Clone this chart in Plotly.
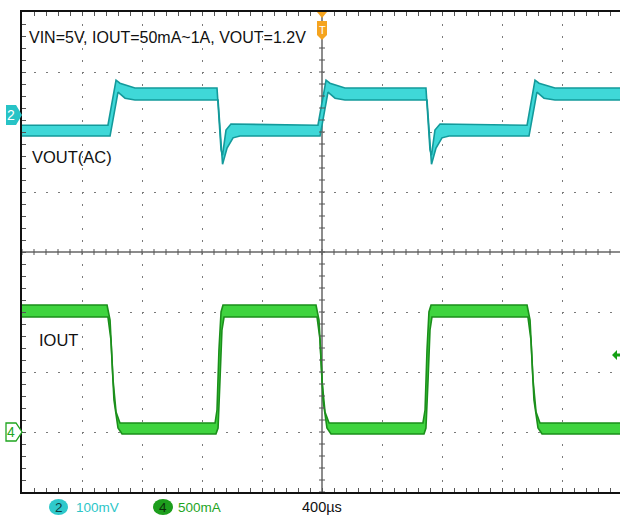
import plotly.graph_objects as go

# ---------------- data ----------------
# time base: 400 us/div, trigger (T) at t = 0 us
TIME_PER_DIV_US = 400
X_RANGE_US = [-2000, 1986.7]

# Channel 2 : VOUT (AC coupled), 100 mV/div, values relative to the channel-2 marker
CH2_MV_PER_DIV = 100
vout_upper_t = [-2000, -1427, -1373, -1347, -1247, -700, -673, -663, -640, -607,
                -27, 27, 53, 153, 693, 720, 730, 753, 787,
                1367, 1420, 1447, 1553, 1987]
vout_upper_mv = [-17, -17, 58, 53, 45, 45, -58, -67, -25, -15,
                 -17, 58, 53, 45, 45, -58, -67, -25, -15,
                 -17, 58, 53, 45, 45]
vout_lower_t = [-2000, -1413, -1360, -1313, -1247, -693, -663, -633, -593, -547,
                -13, 40, 87, 153, 700, 730, 760, 800, 847,
                1380, 1433, 1480, 1553, 1987]
vout_lower_mv = [-35, -35, 38, 28, 25, 25, -82, -55, -38, -35,
                 -35, 38, 28, 25, 25, -82, -55, -38, -35,
                 -35, 38, 28, 25, 25]

# Channel 4 : IOUT, 500 mA/div, values relative to the channel-4 marker
CH4_MA_PER_DIV = 500
iout_upper_t = [-2000, -1433, -1413, -1393, -1373, -1347,
                -713, -700, -687, -673, -660,
                -40, -20, 0, 20, 47,
                673, 687, 700, 713, 727,
                1367, 1387, 1407, 1427, 1453, 1987]
iout_upper_ma = [1058, 1058, 933, 433, 167, 75,
                 75, 183, 683, 1000, 1058,
                 1058, 933, 433, 167, 75,
                 75, 183, 683, 1000, 1058,
                 1058, 933, 433, 167, 75, 75]
iout_lower_t = [-2000, -1427, -1407, -1387, -1360, -1333,
                -707, -693, -680, -667, -653,
                -33, -13, 7, 33, 60,
                680, 693, 707, 720, 733,
                1373, 1393, 1413, 1440, 1467, 1987]
iout_lower_ma = [958, 958, 767, 267, 33, -17,
                 -17, 33, 433, 850, 958,
                 958, 767, 267, 33, -17,
                 -17, 33, 433, 850, 958,
                 958, 767, 267, 33, -17, -17]

CH2_REF_DIV = 2.283     # channel-2 marker position (divisions from centre)
CH4_REF_DIV = -3.0      # channel-4 marker position
CH4_TRIG_MA = 642       # trigger level arrow (right edge)

TITLE_TEXT = "VIN=5V, IOUT=50mA~1A, VOUT=1.2V"
VOUT_LABEL = "VOUT(AC)"
IOUT_LABEL = "IOUT"
CH2_SCALE_LABEL = "100mV"
CH4_SCALE_LABEL = "500mA"
TIME_SCALE_LABEL = "400µs"

# ---------------- styling ----------------
W, H = 620, 515
ML, MT, MB = 22, 12, 23
PLOT_W = W - ML
PLOT_H = H - MT - MB

CYAN_EDGE = "#139a9b"
CYAN_FILL = "#3fd8d8"
CYAN_TXT = "#2cc6c8"
GREEN_EDGE = "#1b8f1b"
GREEN_FILL = "#3fd43f"
GREEN_TXT = "#1fa51f"
ORANGE = "#f5a41f"
FONT = "Liberation Sans, Arial, sans-serif"
TICKCOL = "#555555"


def px(x):
    return (x - ML) / PLOT_W


def py(y):
    return (MT + PLOT_H - y) / PLOT_H


fig = go.Figure()

# VOUT band
fig.add_trace(go.Scatter(x=vout_lower_t, y=vout_lower_mv, yaxis="y2", mode="lines",
                         line=dict(color=CYAN_EDGE, width=1.6), hoverinfo="skip"))
fig.add_trace(go.Scatter(x=vout_upper_t, y=vout_upper_mv, yaxis="y2", mode="lines",
                         line=dict(color=CYAN_EDGE, width=1.6), fill="tonexty",
                         fillcolor=CYAN_FILL, hoverinfo="skip"))
# IOUT band
fig.add_trace(go.Scatter(x=iout_lower_t, y=iout_lower_ma, yaxis="y3", mode="lines",
                         line=dict(color=GREEN_EDGE, width=1.6), hoverinfo="skip"))
fig.add_trace(go.Scatter(x=iout_upper_t, y=iout_upper_ma, yaxis="y3", mode="lines",
                         line=dict(color=GREEN_EDGE, width=1.6), fill="tonexty",
                         fillcolor=GREEN_FILL, hoverinfo="skip"))

y2_range = [(-4 - CH2_REF_DIV) * CH2_MV_PER_DIV, (4 - CH2_REF_DIV) * CH2_MV_PER_DIV]
y3_range = [(-4 - CH4_REF_DIV) * CH4_MA_PER_DIV, (4 - CH4_REF_DIV) * CH4_MA_PER_DIV]

fig.update_layout(
    width=W, height=H,
    margin=dict(l=ML, r=0, t=MT, b=MB, pad=0),
    paper_bgcolor="white", plot_bgcolor="white",
    showlegend=False,
    font=dict(family=FONT, color="#111111"),
    xaxis=dict(range=X_RANGE_US, showticklabels=False, tick0=0, dtick=TIME_PER_DIV_US,
               showgrid=True, gridcolor="#7a7a7a", gridwidth=1, griddash="2px,10px",
               zeroline=True, zerolinecolor="#8c8c8c", zerolinewidth=2,
               showline=True, linecolor="#111111", linewidth=1.5, mirror="allticks",
               ticks="inside", ticklen=4, tickcolor=TICKCOL,
               minor=dict(tick0=0, dtick=TIME_PER_DIV_US / 5, ticks="inside", ticklen=4,
                          tickcolor=TICKCOL, showgrid=False)),
    yaxis=dict(range=[-4, 4], showticklabels=False, tick0=0, dtick=1,
               showgrid=True, gridcolor="#7a7a7a", gridwidth=1, griddash="2px,10px",
               zeroline=True, zerolinecolor="#8c8c8c", zerolinewidth=2,
               showline=True, linecolor="#111111", linewidth=1.5,
               ticks="inside", ticklen=4, tickcolor=TICKCOL,
               minor=dict(tick0=0, dtick=0.2, ticks="inside", ticklen=4,
                          tickcolor=TICKCOL, showgrid=False)),
    yaxis2=dict(overlaying="y", range=y2_range, visible=False),
    yaxis3=dict(overlaying="y", range=y3_range, visible=False),
)

shapes = []
# small tick marks across the two centre lines (every 1/5 division)
for k in range(-25, 25):
    t = k * TIME_PER_DIV_US / 5
    shapes.append(dict(type="line", xref="x", yref="y", ysizemode="pixel", yanchor=0,
                       x0=t, x1=t, y0=-3, y1=3, line=dict(color=TICKCOL, width=1)))
for k in range(-20, 21):
    v = k / 5
    shapes.append(dict(type="line", xref="x", yref="y", xsizemode="pixel", xanchor=0,
                       x0=-3, x1=3, y0=v, y1=v, line=dict(color=TICKCOL, width=1)))
# channel 2 marker (filled)
shapes.append(dict(type="path", xref="paper", yref="y2", xsizemode="pixel", ysizemode="pixel",
                   xanchor=0, yanchor=0,
                   path="M -16 -10 L -6 -10 L 0 0 L -6 10 L -16 10 Z",
                   fillcolor="#27c3c6", line=dict(width=0), layer="above"))
# channel 4 marker (outlined)
shapes.append(dict(type="path", xref="paper", yref="y3", xsizemode="pixel", ysizemode="pixel",
                   xanchor=0, yanchor=0,
                   path="M -16 -9 L -6 -9 L 0 0 L -6 9 L -16 9 Z",
                   fillcolor="white", line=dict(width=1.3, color=GREEN_TXT), layer="above"))
# trigger position marker
shapes.append(dict(type="path", xref="x", yref="paper", xsizemode="pixel", ysizemode="pixel",
                   xanchor=0, yanchor=1, path="M -5 0 L 5 0 L 0 -6 Z",
                   fillcolor=ORANGE, line=dict(width=0), layer="above"))
shapes.append(dict(type="path", xref="x", yref="paper", xsizemode="pixel", ysizemode="pixel",
                   xanchor=0, yanchor=1, path="M -5 -9 L 5 -9 L 5 -23 L 0 -28 L -5 -23 Z",
                   fillcolor=ORANGE, line=dict(width=0), layer="above"))
# trigger level arrow (right edge)
shapes.append(dict(type="path", xref="paper", yref="y3", xsizemode="pixel", ysizemode="pixel",
                   xanchor=1, yanchor=CH4_TRIG_MA,
                   path="M -8 0 L -3 5 L -3 1.5 L 0 1.5 L 0 -1.5 L -3 -1.5 L -3 -5 Z",
                   fillcolor="#15a015", line=dict(width=0), layer="above"))
# bottom channel badges
shapes.append(dict(type="circle", xref="paper", yref="paper",
                   x0=px(49), x1=px(68), y0=py(515), y1=py(499),
                   fillcolor="#2fc9cb", line=dict(width=0)))
shapes.append(dict(type="circle", xref="paper", yref="paper",
                   x0=px(153), x1=px(173), y0=py(515), y1=py(499),
                   fillcolor="#1d9e1d", line=dict(width=0)))
fig.update_layout(shapes=shapes)

ann = []


def add_text(text, x, y, size, color="#111111", xanchor="left", xref="paper", yref="paper"):
    ann.append(dict(text=text, x=x, y=y, xref=xref, yref=yref, xanchor=xanchor,
                    yanchor="middle", showarrow=False,
                    font=dict(family=FONT, size=size, color=color)))


add_text(TITLE_TEXT, px(27), py(37), 16)
add_text(VOUT_LABEL, px(30), py(157), 16.5)
add_text(IOUT_LABEL, px(37), py(340), 16.5)
add_text("2", px(11), 0, 14, color="white", xanchor="center", yref="y2")
add_text("4", px(11), 0, 14, color=GREEN_TXT, xanchor="center", yref="y3")
add_text("T", 0, py(30), 11, color="white", xanchor="center", xref="x")
add_text("2", px(58.5), py(507), 13.5, color="#0d3d40", xanchor="center")
add_text(CH2_SCALE_LABEL, px(74), py(507), 13.5, color=CYAN_TXT)
add_text("4", px(163), py(507), 13.5, color="#0b2f0b", xanchor="center")
add_text(CH4_SCALE_LABEL, px(176), py(507), 13.5, color=GREEN_TXT)
add_text(TIME_SCALE_LABEL, px(300), py(507), 14.5)
fig.update_layout(annotations=ann)

fig.write_html("out.html")
